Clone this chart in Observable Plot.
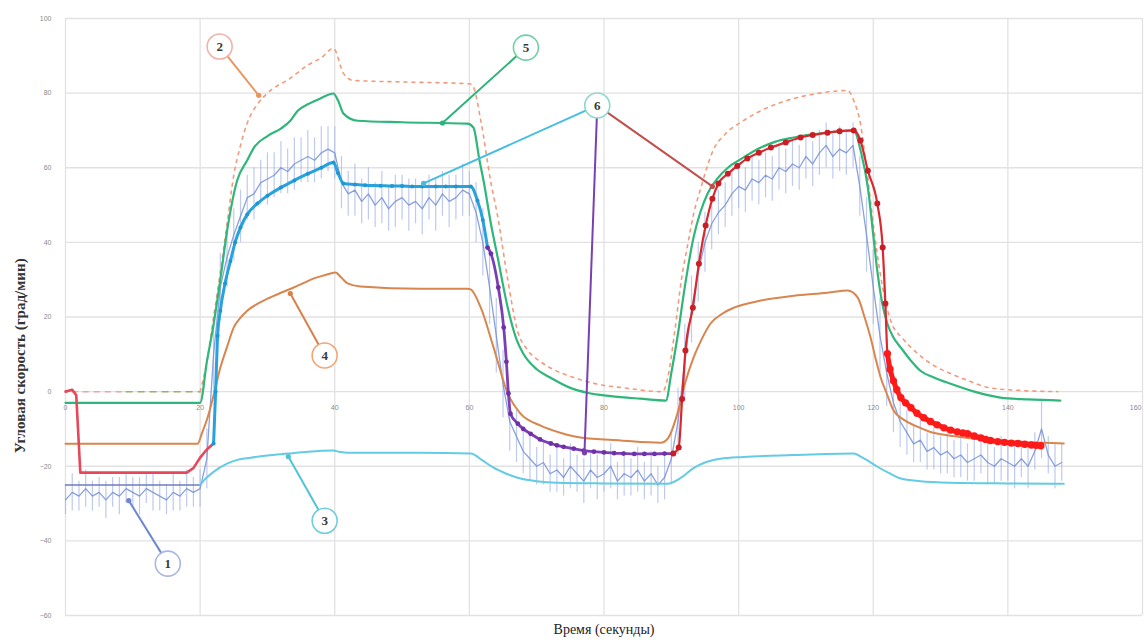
<!DOCTYPE html>
<html><head><meta charset="utf-8">
<script src="https://cdn.jsdelivr.net/npm/d3@7"></script>
<script src="https://cdn.jsdelivr.net/npm/@observablehq/plot@0.6"></script>
<style>body{margin:0;background:#fff}</style>
</head><body><div id="chart"></div>
<script>
const xTicks = [0,20,40,60,80,100,120,140,160];
const yTicks = [-60,-40,-20,0,20,40,60,80,100];
const xTitle = "Время (секунды)";
const yTitle = "Угловая скорость (град/мин)";

// Series 1: measured mean (one value per second, t = 0..148) and error half-widths
const measVals = [
-29,-27,-28,-26,-28,-27,-29,-27,-28,-26,-27,-28,-26,-27,-28,-29,-27,-28,-26,-27,-26,
-18,10,28,36,42,47,52,53,56,57,58,60,59,61,62,63,62,64,65,64,
56,53,54,51,53,50,52,49,51,52,50,51,49,52,50,53,51,52,54,53,
48,40,28,15,2,-8,-12,-16,-18,-20,-19,-22,-21,-23,-20,-22,-24,-21,-23,-22,
-20,-24,-22,-23,-21,-24,-22,-25,-23,-18,-8,8,22,32,40,45,48,50,53,55,
54,57,56,58,57,60,59,61,60,63,61,64,66,63,65,64,66,55,42,28,
15,5,-3,-8,-11,-14,-13,-16,-15,-17,-16,-18,-17,-19,-18,-17,-19,-20,-18,-19,
-20,-18,-20,-16,-10,-17,-20,-19];
const measErr = [
4,5,4,5,4,4,5,4,5,4,4,5,4,5,4,4,5,4,5,4,5,
8,10,9,8,7,7,6,7,6,7,6,7,6,7,6,7,6,7,6,7,
7,6,7,6,7,6,7,6,7,6,7,6,7,6,7,6,7,6,7,6,
8,9,10,10,9,8,7,6,6,5,6,5,6,5,6,5,6,5,6,5,
6,5,6,5,6,5,6,5,6,7,9,10,9,8,8,7,6,6,6,6,
6,6,6,6,6,6,6,6,6,6,6,6,6,6,6,6,6,8,10,10,
10,9,8,7,6,5,6,5,6,5,6,5,6,5,6,5,6,5,6,5,
6,5,6,5,8,5,6,5];

// Series 2: dashed model (upper)
const s2Pre = [[1,0],[9,0]];
const s5Pre = [[9,0],[20,0]];
const s2 = [[20,0],[21,8],[22,20],[23,32],[24,45],[25,58],[26,66],[27,72],[28.5,77],[30,80],[33.4,84],[36,87.5],[38,89.5],[39.8,92],[41.3,85.3],[42.8,83.4],[50,83],[60,82.5],[60.5,82],[61.7,72.6],[63.2,56],[64.2,47],[65.7,30],[67.2,16],[68.5,11.5],[70.6,8],[73,5.5],[75.5,3.8],[79,2],[83,1],[88.7,0],[89.5,4],[90.5,16],[91.5,30],[92.5,40],[93.3,47.5],[94.4,54.7],[96.3,65],[98,69],[100.7,72.6],[103,75],[105.8,77.2],[108.5,78.7],[111.7,79.9],[116.2,80.7],[117.1,78],[118.1,71.8],[119,60],[120,45],[121,32],[122.6,19],[124.5,14],[126.6,10.2],[129,7],[131.5,4.8],[134,3],[137.4,1],[142,0.3],[147.4,0]];
// Series 3: lower model
const s3Pre = [[0,-25],[20,-25]];
const s3 = [[20,-25],[20.5,-23.9],[22,-21.5],[24,-19.3],[25.5,-18.3],[27.5,-17.7],[30,-17.1],[33,-16.6],[36,-16.1],[39.8,-15.8],[40.8,-16.2],[41.9,-16.4],[52.7,-16.4],[60.2,-16.6],[62,-18.5],[63.6,-20.4],[65.5,-22],[67.6,-23.3],[70,-24],[73.1,-24.4],[80,-24.6],[89.4,-24.7],[91.5,-23],[93.3,-20.5],[95,-19],[97.3,-18],[100.7,-17.5],[108,-17],[117.1,-16.6],[118.2,-17.5],[119.2,-18.5],[120.5,-20],[122.3,-21.8],[124.1,-23.3],[127,-24],[131.5,-24.4],[140,-24.6],[148.3,-24.7]];
// Series 4
const s4 = [[0,-14],[19.6,-14],[20.3,-11],[21.1,-7],[22,-1],[23,6.4],[24,12],[25,17.2],[26,19.8],[27,21.7],[28.5,23.5],[30,24.9],[32,26.5],[33.9,27.9],[35.5,29.2],[36.8,30.3],[38.5,31.2],[40.1,31.9],[41,30.5],[41.9,29],[43.8,28.2],[52.7,27.6],[59.7,27.6],[60.2,27.4],[61.7,22.5],[63.6,11.8],[65.7,-0.5],[67.6,-5.9],[70.6,-9.1],[73.5,-11],[76.5,-12.3],[82.5,-13.1],[88.4,-13.7],[89.5,-12.5],[90.9,-5.9],[92,2],[93.3,9.1],[94.5,14],[95.8,18.2],[97.5,20.8],[99.3,22.5],[103.3,24.4],[108.2,25.7],[113.2,26.5],[116.2,27.1],[117.7,25.2],[118.7,20],[119.6,14.5],[120.4,8.5],[121.1,3.8],[122,-0.5],[123,-5],[124.5,-7.5],[126.3,-9.2],[128.5,-10.8],[131.5,-11.8],[135,-12.6],[138.9,-13.1],[143,-13.6],[148.3,-13.9]];
// Series 5
const s5 = [[0,-3],[20,-3],[21,8],[22,18],[23,30],[24,43],[25.5,56.6],[27,62],[28,65.4],[30,68.5],[32,70.5],[33.4,72.6],[34.5,75.3],[36,77],[37.9,78.6],[39.8,79.9],[40.5,78],[41.3,74.5],[43.4,72.6],[50,72.2],[59.7,71.8],[60.6,70.8],[61.5,62],[62.1,56.6],[63.2,45],[64.2,36],[65.7,22.5],[67,14],[68,10.2],[70,6],[72,3.8],[75,1],[77.5,-0.3],[81,-1.2],[85.4,-1.9],[89.2,-2.4],[90,5],[90.9,14.5],[92,28],[93.3,41.3],[94.3,48],[95.4,53.1],[96.8,57],[98.4,60],[100.5,62.5],[103.3,65.4],[105.5,67],[108.2,68.1],[113.2,69.4],[117.1,70],[118.2,64],[119.2,54.7],[120,42],[120.6,32.4],[121.3,24],[122.1,18.2],[123,14.5],[124.1,11.8],[125.5,8.5],[127,5.6],[129,3.8],[131.5,2.1],[135,0],[138.9,-1.6],[143,-2.1],[147.8,-2.4]];
// Series 6 segments
const s6Start = [[0,0],[1,0.5],[1.6,-1],[2.2,-21.7],[3,-21.7],[18,-21.7],[19,-20.5],[20,-17.7],[21,-15.5],[22,-13.9]];
const s6Blue = [[22,-13.9],[22.3,0],[22.6,15],[23,21.7],[23.7,29],[24.5,35],[25.2,40],[26,44],[27,47.5],[28.5,50.4],[30,52.5],[32,54.7],[34,56.6],[36,58.4],[38,60],[39.8,61.4],[40.5,58.5],[41.3,55.8],[43,55.5],[44.5,55.3],[46.8,55.2],[48.5,55.1],[50,55.1],[51.5,55],[53,55],[55,55],[56.5,55],[58,55],[60.2,55],[61.2,51.2],[62,46],[62.7,38.6]];
const s6Purple = [[62.7,38.6],[63.2,37],[64.3,27.9],[65.1,17.2],[65.5,8],[65.8,-0.5],[66.1,-5.9],[67.2,-8.6],[68,-10],[69.1,-11.3],[70.5,-12.8],[72.1,-13.9],[73,-14.4],[74,-14.8],[75.5,-15.3],[77,-15.8],[78.5,-16.1],[80,-16.3],[81.5,-16.5],[82.9,-16.6],[84.5,-16.7],[86,-16.7],[87.5,-16.7],[89,-16.6],[90.3,-16.6]];
const s6Red = [[90.3,-16.6],[91.1,-15],[91.6,-2],[92.1,11],[93.2,22.5],[94.1,34.3],[95.1,44.5],[96.1,51.7],[97,55.8],[98.4,58.4],[99.8,60.5],[101.3,62.5],[103,64],[104.8,65.4],[107,66.8],[109.2,68.1],[111,68.8],[113.2,69.4],[115,69.8],[117.1,70],[118.1,67.3],[119.2,59.2],[120.6,50.4],[121.4,38.6],[121.8,23.6],[122.1,10.2],[122.5,6],[123,2.9],[123.5,0.5],[124.1,-1.6],[124.8,-3],[125.6,-4.3],[126.5,-5.8],[127.5,-7],[128.5,-8],[129.5,-8.9],[130.5,-9.7],[131.5,-10.3],[132.5,-10.8],[133.3,-11.1],[134,-11.3],[135,-11.9],[136,-12.4],[136.7,-12.8],[137.4,-13.1],[138.5,-13.4],[139.5,-13.6],[140.5,-13.8],[141.5,-13.9],[142.5,-14.1],[143.5,-14.3],[144.2,-14.4],[144.9,-14.5]];

// Callout labels (data coordinates) and their targets
const calloutText = ["1","2","3","4","5","6"];
const calloutT = [15.2,22.9,38.5,38.5,68.4,79];
const calloutV = [-46.1,92.5,-34.6,9.7,92.2,76.7];
const leaderFrom = [0,1,2,3,4,5,5,5];
const leaderT = [9.4,28.7,33.1,33.4,56,53.2,77.1,96.1];
const leaderV = [-29.2,79.4,-17.4,26.3,72,55.8,-16.4,55];
const yTitleAt = [9.6];

// ---- styles (kept apart from the data) ----
const circleStroke = ["#a9b6e2","#f2b3aa","#6fcfd9","#f1a676","#74cfa6","#8ed7cc"];
const leaderStroke = ["#6d87d0","#e8955f","#4fc4d6","#d9804a","#2db27a","#45bde3","#7a3fb0","#c0504d"];

const P = a => a.map(([t,v]) => ({t, v}));
const meas = measVals.map((v,i) => ({t:i, v, e:measErr[i]}));
const callouts = calloutText.map((s,i) => ({s, t:calloutT[i], v:calloutV[i], c:circleStroke[i]}));
const leaders = leaderFrom.map((f,i) => ({t1:calloutT[f], v1:calloutV[f], t2:leaderT[i], v2:leaderV[i], c:leaderStroke[i]}));
const xy = {x:"t", y:"v"};
const lastTick = xTicks[xTicks.length-1];
const tickFont = "'Liberation Sans', sans-serif";

const chart = Plot.plot({
  width: 1144, height: 643,
  marginLeft: 65, marginRight: 2, marginTop: 18, marginBottom: 28,
  x: {domain:[0,160], axis:null},
  y: {domain:[-60,100]},
  style: {fontFamily:"'Liberation Serif', serif", background:"#fff"},
  marks: [
    Plot.gridX(xTicks, {stroke:"#e2e2e2", strokeOpacity:1, strokeWidth:1.3}),
    Plot.gridY(yTicks, {stroke:"#e2e2e2", strokeOpacity:1, strokeWidth:1.3}),
    Plot.axisY(yTicks, {tickSize:0, tickPadding:14, fontSize:7, fill:"#8a8a8a", label:null, fontFamily:tickFont}),
    Plot.text(xTicks, {filter:d=>d!==lastTick, x:d=>d, y:0, dy:16, text:d=>String(d), fontSize:7, fill:"#8a8a8a", fontFamily:tickFont}),
    Plot.text(xTicks, {filter:d=>d===lastTick, x:d=>d, y:0, dy:16, text:d=>String(d), textAnchor:"end", dx:-1, fontSize:7, fill:"#8a8a8a", fontFamily:tickFont}),
    // measured data with error bars
    Plot.ruleX(meas, {x:"t", y1:d=>d.v-d.e, y2:d=>d.v+d.e, stroke:"#a2b4e8", strokeWidth:1.2, strokeOpacity:0.7}),
    Plot.line(meas, {...xy, stroke:"#7690d6", strokeWidth:1.3, strokeOpacity:0.85}),
    // models
    Plot.line(P(s3Pre), {...xy, stroke:"#6f7cc0", strokeWidth:1.5}),
    Plot.line(P(s3), {...xy, stroke:"#63cbe3", strokeWidth:2, curve:"monotone-x"}),
    Plot.line(P(s4), {...xy, stroke:"#d9854e", strokeWidth:2, curve:"monotone-x"}),
    Plot.line(P(s2Pre), {...xy, stroke:"#f0a3a0", strokeWidth:1.5, strokeDasharray:"5,6"}),
    Plot.line(P(s5Pre), {...xy, stroke:"#8fb56a", strokeWidth:1.5, strokeDasharray:"6,6"}),
    Plot.line(P(s2), {...xy, stroke:"#f29a7c", strokeWidth:1.6, strokeDasharray:"3,5", curve:"monotone-x"}),
    Plot.line(P(s5), {...xy, stroke:"#2fb67a", strokeWidth:2.2, curve:"monotone-x"}),
    // series 6
    Plot.line(P(s6Start), {...xy, stroke:"#e8475a", strokeWidth:2.6}),
    Plot.line(P(s6Blue), {...xy, stroke:"#27a2dc", strokeWidth:3, curve:"monotone-x"}),
    Plot.dot(P(s6Blue), {...xy, r:2, fill:"#1f96d2"}),
    Plot.line(P(s6Purple), {...xy, stroke:"#7b3fb5", strokeWidth:2.8, curve:"monotone-x"}),
    Plot.dot(P(s6Purple), {...xy, r:2.4, fill:"#6f2fa8"}),
    Plot.line(P(s6Red), {...xy, stroke:"#d9282e", strokeWidth:2.2, curve:"monotone-x"}),
    Plot.line(P(s6Red), {...xy, filter:d=>d.t>=122, stroke:"#ff1a1a", strokeWidth:5, curve:"monotone-x"}),
    Plot.dot(P(s6Red), {...xy, r:d=>d.t>=122?3.6:2.4, fill:d=>d.t>=122?"#ff1a1a":"#c81e24"}),
    // callouts
    Plot.link(leaders, {x1:"t1", y1:"v1", x2:"t2", y2:"v2", stroke:"c", strokeWidth:2}),
    Plot.dot(leaders, {x:"t2", y:"v2", r:2.6, fill:"c"}),
    Plot.dot(callouts, {x:"t", y:"v", r:12.5, fill:"#fff", stroke:"c", strokeWidth:1.6}),
    Plot.text(callouts, {x:"t", y:"v", text:"s", fontSize:13, fontWeight:"bold", fill:"#3a3a3a"}),
    // axis titles
    Plot.text([yTitle], {y:yTitleAt, frameAnchor:"left", textAnchor:"middle", dx:-45, rotate:-90, fontSize:15, fontWeight:"bold", fill:"#333"}),
    Plot.text([xTitle], {frameAnchor:"bottom", dy:18, fontSize:14, fill:"#222"})
  ]
});
document.getElementById("chart").append(chart);
</script></body></html>
